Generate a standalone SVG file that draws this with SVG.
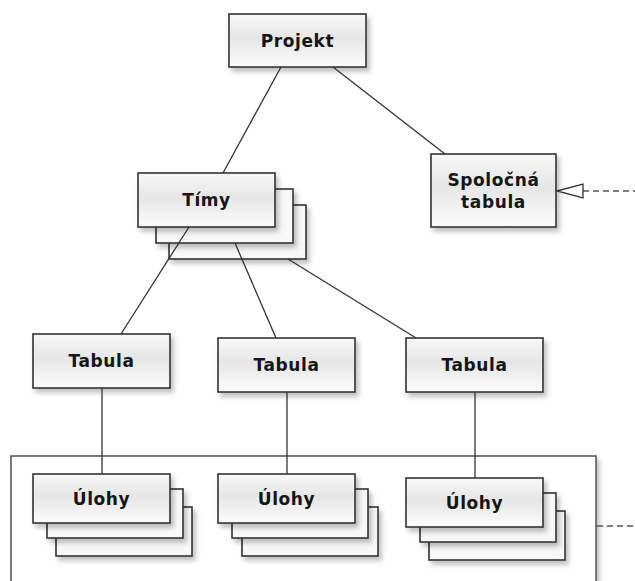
<svg xmlns="http://www.w3.org/2000/svg" width="635" height="581" viewBox="0 0 635 581">
  <defs>
    <linearGradient id="boxFill" x1="0" y1="0" x2="0" y2="1">
      <stop offset="0" stop-color="#f8f8f8"/>
      <stop offset="0.45" stop-color="#e6e6e6"/>
      <stop offset="1" stop-color="#fcfcfc"/>
    </linearGradient>
    <filter id="shadow" x="-10%" y="-10%" width="130%" height="140%">
      <feDropShadow dx="3" dy="4" stdDeviation="2.5" flood-color="#000" flood-opacity="0.25"/>
    </filter>
  </defs>
  <style>
    .box { fill: url(#boxFill); stroke: #333; stroke-width: 1.6; filter: url(#shadow); }
    .back { fill: #f8f8f8; stroke: #333; stroke-width: 1.6; filter: url(#shadow); }
    .frame { fill: #fff; stroke: #444; stroke-width: 1.4; filter: url(#shadow); }
    .lbl { font-family: "DejaVu Sans", Verdana, sans-serif; font-weight: bold; font-size: 17px; letter-spacing: 0.6px; fill: #151515; text-anchor: middle; }
    .link { stroke: #333; stroke-width: 1.3; fill: none; }
    .dash { stroke: #555; stroke-width: 1.3; fill: none; stroke-dasharray: 6 4; }
  </style>

  <rect width="635" height="581" fill="#fff"/>

  <!-- package frame around the task stacks -->
  <g id="frame">
    <rect class="frame" x="11" y="456" width="585" height="140"/>
  </g>

  <!-- nodes -->
  <g id="projekt">
    <rect class="box" x="229" y="14" width="137" height="53"/>
    <text class="lbl" x="297.5" y="46.5">Projekt</text>
  </g>

  <g id="timy">
    <rect class="back" x="169" y="205" width="137" height="54"/>
    <rect class="back" x="156" y="189" width="137" height="54"/>
    <rect class="box" x="138" y="173" width="137" height="54"/>
    <text class="lbl" x="206.5" y="205.5">Tímy</text>
  </g>

  <g id="spolocna-tabula">
    <rect class="box" x="431" y="154" width="125" height="73"/>
    <text class="lbl" x="493.5" y="186">Spoločná</text>
    <text class="lbl" x="493.5" y="208">tabula</text>
  </g>

  <g id="tabula-1">
    <rect class="box" x="33" y="334" width="137" height="54"/>
    <text class="lbl" x="101.5" y="367">Tabula</text>
  </g>
  <g id="tabula-2">
    <rect class="box" x="218" y="338" width="137" height="54"/>
    <text class="lbl" x="286.5" y="371">Tabula</text>
  </g>
  <g id="tabula-3">
    <rect class="box" x="406" y="338" width="137" height="54"/>
    <text class="lbl" x="474.5" y="371">Tabula</text>
  </g>

  <g id="ulohy-1">
    <rect class="back" x="56" y="507" width="136" height="49"/>
    <rect class="back" x="47" y="489" width="136" height="49"/>
    <rect class="box" x="33" y="474" width="137" height="49"/>
    <text class="lbl" x="101.5" y="504.5">Úlohy</text>
  </g>
  <g id="ulohy-2">
    <rect class="back" x="242" y="507" width="136" height="49"/>
    <rect class="back" x="232" y="489" width="136" height="49"/>
    <rect class="box" x="218" y="474" width="137" height="49"/>
    <text class="lbl" x="286.5" y="504.5">Úlohy</text>
  </g>
  <g id="ulohy-3">
    <rect class="back" x="429" y="511" width="136" height="49"/>
    <rect class="back" x="420" y="493" width="136" height="49"/>
    <rect class="box" x="406" y="478" width="137" height="49"/>
    <text class="lbl" x="474.5" y="508.5">Úlohy</text>
  </g>

  <!-- connectors -->
  <g id="connectors">
    <line class="link" x1="281" y1="67" x2="223" y2="173"/>
    <line class="link" x1="333" y1="67" x2="445" y2="154"/>
    <line class="link" x1="189" y1="227" x2="121" y2="334"/>
    <line class="link" x1="235" y1="243" x2="276" y2="338"/>
    <line class="link" x1="288" y1="259" x2="416" y2="338"/>
    <line class="link" x1="102" y1="388" x2="102" y2="474"/>
    <line class="link" x1="287" y1="392" x2="287" y2="474"/>
    <line class="link" x1="475" y1="392" x2="475" y2="478"/>
    <!-- realization arrow into the shared board -->
    <line class="dash" x1="583" y1="191" x2="635" y2="191"/>
    <polygon points="557,191 583,184 583,198" fill="#fff" stroke="#333" stroke-width="1.3"/>
    <!-- dependency leaving the frame -->
    <line class="dash" x1="597" y1="526" x2="635" y2="526"/>
  </g>
</svg>
